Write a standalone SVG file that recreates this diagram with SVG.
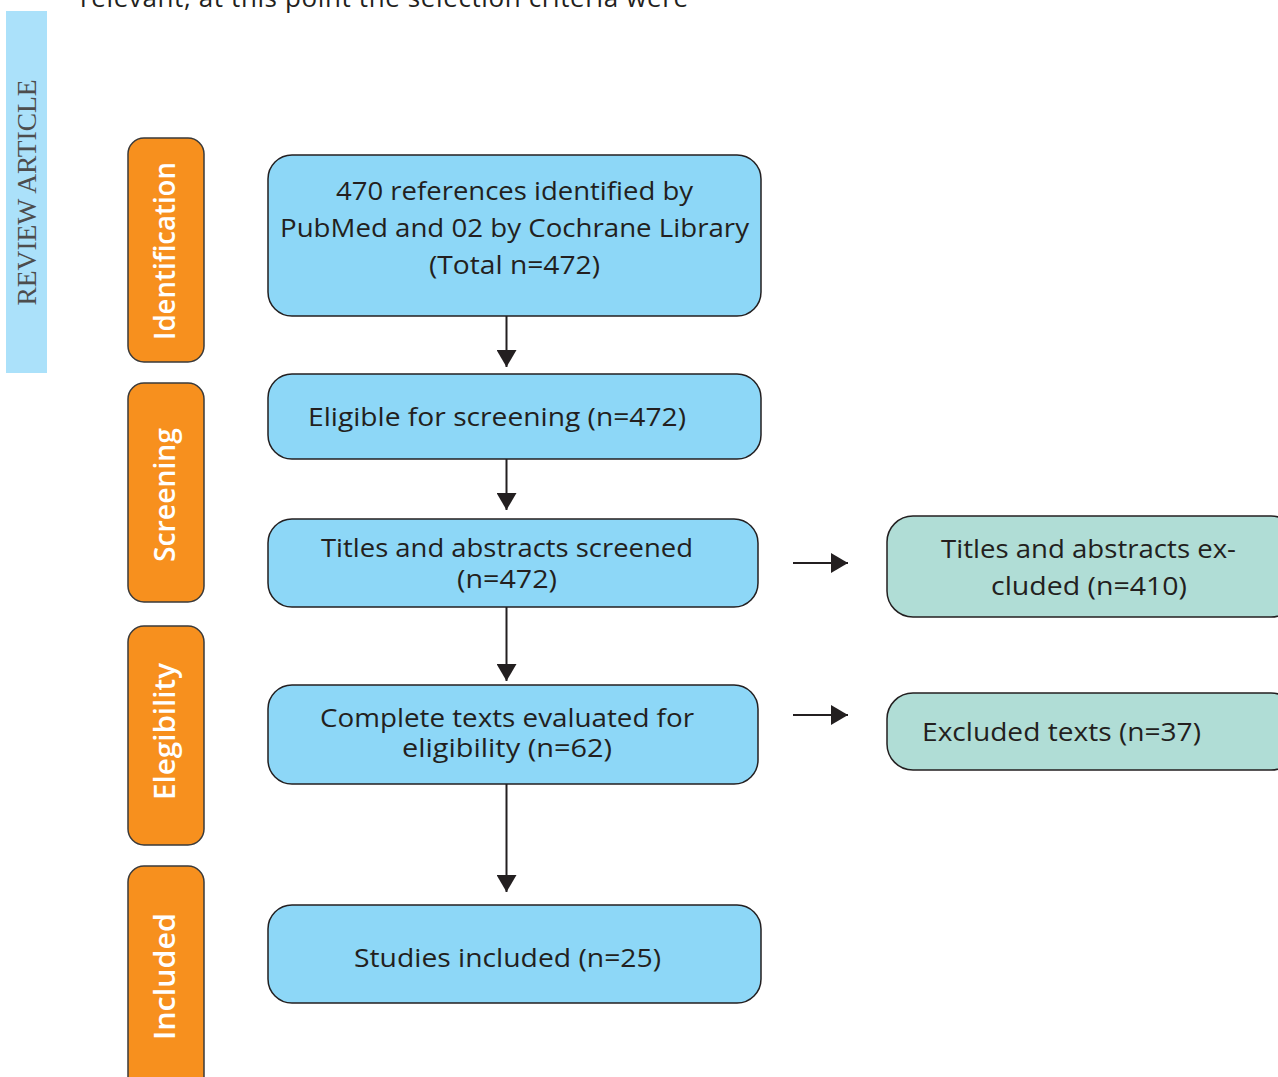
<svg xmlns="http://www.w3.org/2000/svg" width="1278" height="1077" viewBox="0 0 1278 1077">
<defs>
<style>
.t{font-family:"Open Sans","Noto Sans",sans-serif;font-size:26px;fill:#231f20;text-anchor:middle}
.lab{font-family:"Open Sans","Noto Sans",sans-serif;font-size:29px;font-weight:600;fill:#ffffff;text-anchor:middle}
.blue{fill:#8dd7f7;stroke:#231f20;stroke-width:1.5}
.green{fill:#b0ddd6;stroke:#231f20;stroke-width:1.5}
.orange{fill:#f7901e;stroke:#3a3a3a;stroke-width:1.5}
.con{stroke:#231f20;stroke-width:2;fill:none;marker-end:url(#ah)}
</style>
<marker id="ah" viewBox="0 0 17 20" refX="17" refY="10" markerWidth="17" markerHeight="20" markerUnits="userSpaceOnUse" orient="auto">
<path d="M0,0 L17,10 L0,20 z" fill="#231f20"/>
</marker>
</defs>
<rect width="1278" height="1077" fill="#ffffff"/>
<text x="80" y="7" font-family="'Open Sans','Noto Sans',sans-serif" font-size="26" fill="#231f20" textLength="608" lengthAdjust="spacing">relevant, at this point the selection criteria were</text>
<g id="sidebar">
<rect x="6" y="11" width="41" height="362" fill="#abe1fa"/>
<text transform="translate(36,192.5) rotate(-90)" x="0" y="0" font-family="'Liberation Serif',serif" font-size="27.5" fill="#4d4d4d" text-anchor="middle">REVIEW ARTICLE</text>
</g>
<g id="stage-identification">
<rect class="orange" x="128" y="138" width="76" height="224" rx="16"/>
<text class="lab" transform="translate(175,251) rotate(-90)" textLength="178" lengthAdjust="spacingAndGlyphs">Identification</text>
</g>
<g id="stage-screening">
<rect class="orange" x="128" y="383" width="76" height="219" rx="16"/>
<text class="lab" transform="translate(175,495) rotate(-90)" textLength="134" lengthAdjust="spacingAndGlyphs">Screening</text>
</g>
<g id="stage-elegibility">
<rect class="orange" x="128" y="626" width="76" height="219" rx="16"/>
<text class="lab" transform="translate(175,731.5) rotate(-90)" textLength="137" lengthAdjust="spacingAndGlyphs">Elegibility</text>
</g>
<g id="stage-included">
<rect class="orange" x="128" y="866" width="76" height="230" rx="16"/>
<text class="lab" transform="translate(175,976.5) rotate(-90)" textLength="127" lengthAdjust="spacingAndGlyphs">Included</text>
</g>
<g id="identified">
<rect class="blue" x="268" y="155" width="493" height="161" rx="24"/>
<text class="t" x="514.5" y="200" textLength="357" lengthAdjust="spacingAndGlyphs">470 references identified by</text>
<text class="t" x="514.5" y="237" textLength="469" lengthAdjust="spacingAndGlyphs">PubMed and 02 by Cochrane Library</text>
<text class="t" x="514.5" y="274" textLength="171" lengthAdjust="spacingAndGlyphs">(Total n=472)</text>
</g>
<g id="eligible">
<rect class="blue" x="268" y="374" width="493" height="85" rx="24"/>
<text class="t" x="497" y="426" textLength="378" lengthAdjust="spacingAndGlyphs">Eligible for screening (n=472)</text>
</g>
<g id="screened">
<rect class="blue" x="268" y="519" width="490" height="88" rx="24"/>
<text class="t" x="507" y="557" textLength="372" lengthAdjust="spacingAndGlyphs">Titles and abstracts screened</text>
<text class="t" x="507" y="588" textLength="100" lengthAdjust="spacingAndGlyphs">(n=472)</text>
</g>
<g id="complete">
<rect class="blue" x="268" y="685" width="490" height="99" rx="24"/>
<text class="t" x="507" y="727" textLength="374" lengthAdjust="spacingAndGlyphs">Complete texts evaluated for</text>
<text class="t" x="507" y="757" textLength="210" lengthAdjust="spacingAndGlyphs">eligibility (n=62)</text>
</g>
<g id="included">
<rect class="blue" x="268" y="905" width="493" height="98" rx="24"/>
<text class="t" x="507.5" y="967" textLength="307" lengthAdjust="spacingAndGlyphs">Studies included (n=25)</text>
</g>
<g id="excluded-abstracts">
<rect class="green" x="887" y="516" width="410" height="101" rx="26"/>
<text class="t" x="1088.5" y="558" textLength="295" lengthAdjust="spacingAndGlyphs">Titles and abstracts ex-</text>
<text class="t" x="1089" y="595" textLength="196" lengthAdjust="spacingAndGlyphs">cluded (n=410)</text>
</g>
<g id="excluded-texts">
<rect class="green" x="887" y="693" width="410" height="77" rx="26"/>
<text class="t" x="922" y="741" style="text-anchor:start" textLength="279" lengthAdjust="spacingAndGlyphs">Excluded texts (n=37)</text>
</g>
<g id="connectors">
<line class="con" x1="506.5" y1="316" x2="506.5" y2="367"/>
<line class="con" x1="506.5" y1="459" x2="506.5" y2="510"/>
<line class="con" x1="506.5" y1="607" x2="506.5" y2="681"/>
<line class="con" x1="506.5" y1="784" x2="506.5" y2="892"/>
<line class="con" x1="793" y1="563" x2="848" y2="563"/>
<line class="con" x1="793" y1="715" x2="848" y2="715"/>
</g>
</svg>
